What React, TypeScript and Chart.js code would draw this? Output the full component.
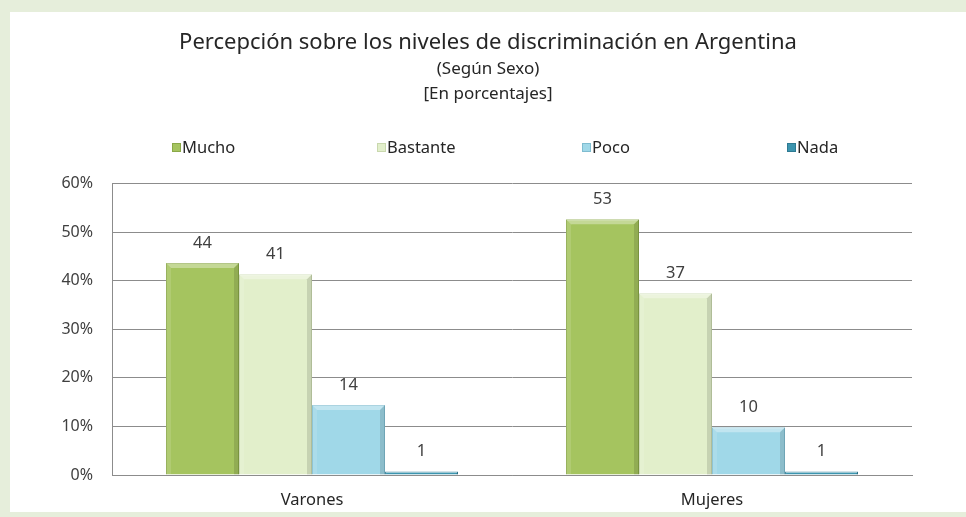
import React, { useEffect, useRef } from "react";
import { Chart, registerables } from "chart.js";

Chart.register(...registerables);

const categories = ["Varones", "Mujeres"];
const seriesNames = ["Mucho", "Bastante", "Poco", "Nada"];
const mucho = [43.6, 52.6];
const bastante = [41.3, 37.4];
const poco = [14.4, 9.8];
const nada = [0.7, 0.7];
const yTicks = [0, 10, 20, 30, 40, 50, 60];
const titleText = "Percepción sobre los niveles de discriminación en Argentina";
const subtitleLines = ["(Según Sexo)", "[En porcentajes]"];

const colors = ["#A5C45F", "#E2EFCB", "#A0D8E8", "#3C95AF"];
const borders = ["#8AA848", "#C9D8AE", "#7FBCD0", "#2E7A92"];
const FONT = "'Noto Sans', sans-serif";

export default function App() {
  const ref = useRef<HTMLCanvasElement | null>(null);
  useEffect(() => {
    document.body.style.margin = "0";
    const canvas = ref.current!;
    const values = [mucho, bastante, poco, nada];

    const barDeco = {
      id: "barDeco",
      afterDatasetsDraw(chart: any) {
        const ctx = chart.ctx;
        chart.data.datasets.forEach((ds: any, di: number) => {
          const meta = chart.getDatasetMeta(di);
          meta.data.forEach((el: any, i: number) => {
            const { x, y, base, width } = el.getProps(["x", "y", "base", "width"], true);
            const l = x - width / 2;
            const r = x + width / 2;
            const h = base - y;
            const b = Math.min(5, h / 2);
            ctx.save();
            ctx.fillStyle = "rgba(255,255,255,0.35)";
            ctx.beginPath();
            ctx.moveTo(l, y);
            ctx.lineTo(r, y);
            ctx.lineTo(r - b, y + b);
            ctx.lineTo(l + b, y + b);
            ctx.closePath();
            ctx.fill();
            ctx.fillStyle = "rgba(0,0,0,0.12)";
            ctx.beginPath();
            ctx.moveTo(r, y);
            ctx.lineTo(r, base);
            ctx.lineTo(r - b, base);
            ctx.lineTo(r - b, y + b);
            ctx.closePath();
            ctx.fill();
            ctx.fillStyle = "rgba(255,255,255,0.12)";
            ctx.beginPath();
            ctx.moveTo(l, y);
            ctx.lineTo(l + b, y + b);
            ctx.lineTo(l + b, base);
            ctx.lineTo(l, base);
            ctx.closePath();
            ctx.fill();
            ctx.restore();
            ctx.save();
            ctx.fillStyle = "#404040";
            ctx.font = `16.5px ${FONT}`;
            ctx.textAlign = "center";
            ctx.textBaseline = "middle";
            ctx.fillText(String(Math.round(ds.data[i])), x, y - 20);
            ctx.restore();
          });
        });
      },
    };

    const legendDeco = {
      id: "legendDeco",
      afterDraw(chart: any) {
        const ctx = chart.ctx;
        const y = 135;
        const startX = chart.chartArea.left + 60;
        const step = 205;
        chart.data.datasets.forEach((ds: any, di: number) => {
          const x = startX + di * step;
          ctx.save();
          ctx.fillStyle = ds.backgroundColor;
          ctx.fillRect(x, y - 4, 9, 9);
          ctx.strokeStyle = ds.borderColor;
          ctx.lineWidth = 1;
          ctx.strokeRect(x + 0.5, y - 3.5, 8, 8);
          ctx.fillStyle = "#262626";
          ctx.font = `16.5px ${FONT}`;
          ctx.textAlign = "left";
          ctx.textBaseline = "middle";
          ctx.fillText(ds.label, x + 10, y + 1);
          ctx.restore();
        });
      },
    };

    const chart = new Chart(canvas, {
      type: "bar",
      data: {
        labels: categories,
        datasets: seriesNames.map((name, i) => ({
          label: name,
          data: values[i],
          backgroundColor: colors[i],
          borderColor: borders[i],
          borderWidth: 1,
          categoryPercentage: 0.73,
          barPercentage: 1,
        })),
      },
      options: {
        animation: false,
        responsive: false,
        maintainAspectRatio: false,
        layout: { padding: { left: 0, right: 0, top: 0, bottom: 0 } },
        plugins: {
          legend: { display: false },
          tooltip: { enabled: false },
          title: {
            display: true,
            text: titleText,
            color: "#262626",
            font: { family: FONT, size: 22, weight: "normal" },
            padding: { top: 18, bottom: 0 },
          },
          subtitle: {
            display: true,
            text: subtitleLines,
            color: "#262626",
            font: { family: FONT, size: 17, weight: "normal", lineHeight: 1.5 },
            padding: { top: 0, bottom: 76 },
          },
        },
        scales: {
          x: {
            afterFit(scale: any) {
              scale.height = 37;
            },
            grid: { display: false, drawTicks: false },
            border: { color: "#8C8C8C" },
            ticks: { color: "#262626", font: { family: FONT, size: 16.5 }, padding: 15 },
          },
          y: {
            min: 0,
            max: 60,
            afterFit(scale: any) {
              scale.width = 102;
            },
            afterBuildTicks(scale: any) {
              scale.ticks = yTicks.map((v) => ({ value: v }));
            },
            grid: { color: "#8C8C8C", drawTicks: false },
            border: { color: "#8C8C8C" },
            ticks: {
              color: "#404040",
              font: { family: FONT, size: 16 },
              padding: 19,
              callback: (v: any) => `${v}%`,
            },
          },
          yRight: {
            position: "right",
            min: 0,
            max: 60,
            afterFit(scale: any) {
              scale.width = 54;
            },
            grid: { display: false, drawTicks: false },
            border: { display: false },
            ticks: { display: false },
          },
        },
      },
      plugins: [barDeco, legendDeco],
    });
    return () => chart.destroy();
  }, []);

  return (
    <div style={{ width: 966, height: 517, background: "#E6EEDB", position: "relative", overflow: "hidden" }}>
      <div style={{ position: "absolute", left: 10, top: 12, width: 956, height: 500, background: "#FFFFFF" }}>
        <canvas ref={ref} width={956} height={500} style={{ display: "block" }} />
      </div>
    </div>
  );
}
